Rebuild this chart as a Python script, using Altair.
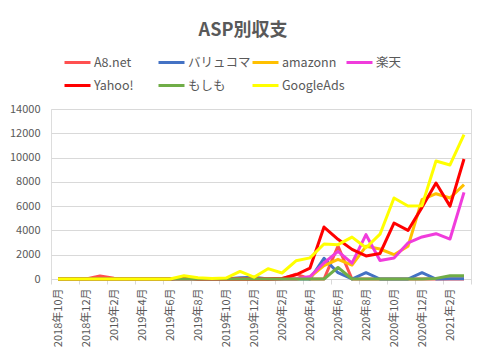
import altair as alt
import pandas as pd

months = ["2018年10月", "2018年11月", "2018年12月", "2019年1月", "2019年2月", "2019年3月",
          "2019年4月", "2019年5月", "2019年6月", "2019年7月", "2019年8月", "2019年9月",
          "2019年10月", "2019年11月", "2019年12月", "2020年1月", "2020年2月", "2020年3月",
          "2020年4月", "2020年5月", "2020年6月", "2020年7月", "2020年8月", "2020年9月",
          "2020年10月", "2020年11月", "2020年12月", "2021年1月", "2021年2月", "2021年3月"]

series_names = ["A8.net", "バリュコマ", "amazonn", "楽天", "Yahoo!", "もしも", "GoogleAds"]
colors = ["#FF5050", "#4472C4", "#FFC000", "#F03CDC", "#FF0000", "#70AD47", "#FFFF00"]

a8 = [0, 0, 0, 250, 60, 0, 0, 0, 0, 0, 0, 0, 0, 0, 0, 0, 0, 400, 0, 0,
      2700, 0, 0, 0, 0, 0, 0, 0, 0, 0]
valuecommerce = [0, 0, 0, 0, 0, 0, 0, 0, 0, 0, 0, 0, 0, 100, 150, 0, 0, 0, 0, 1700,
                 520, 0, 520, 0, 0, 0, 520, 0, 30, 30]
amazonn = [0, 0, 0, 0, 0, 0, 0, 0, 0, 0, 0, 0, 0, 0, 0, 0, 0, 0, 150, 1100,
           1620, 1150, 2690, 2470, 2000, 2690, 6530, 7025, 6670, 7765]
rakuten = [0, 0, 0, 0, 0, 0, 0, 0, 0, 0, 0, 0, 0, 0, 0, 0, 0, 0, 200, 1320,
           2270, 1300, 3650, 1530, 1730, 2965, 3460, 3730, 3290, 7130]
yahoo = [0, 0, 0, 0, 0, 0, 0, 0, 0, 100, 0, 0, 0, 0, 0, 0, 50, 350, 900, 4280,
         3270, 2440, 1900, 2100, 4610, 4000, 5900, 7900, 6000, 9880]
moshimo = [0, 0, 0, 0, 0, 0, 0, 0, 0, 0, 0, 0, 0, 0, 0, 0, 0, 0, 0, 0,
           950, 0, 0, 0, 0, 0, 0, 50, 270, 270]
googleads = [0, 0, 0, 0, 0, 0, 0, 0, 0, 270, 100, 50, 80, 620, 150, 850, 494, 1500, 1740, 2880,
             2830, 3450, 2570, 3690, 6670, 6010, 6040, 9720, 9390, 11880]

y_ticks = [0, 2000, 4000, 6000, 8000, 10000, 12000, 14000]

all_series = [a8, valuecommerce, amazonn, rakuten, yahoo, moshimo, googleads]
rows = []
for order, (name, vals) in enumerate(zip(series_names, all_series)):
    for i, (m, v) in enumerate(zip(months, vals)):
        rows.append({"series": name, "order": order, "idx": i, "month": m, "value": v})
df = pd.DataFrame(rows)

FONT = "Noto Sans CJK JP"
GRAY = "#595959"
GRID = "#D9D9D9"

label_js = "[" + ",".join("'" + m + "'" for m in months) + "]"
tick_vals = [-0.5 + 2 * k for k in range(len(months) // 2 + 1)]

x_enc = alt.X(
    "idx:Q",
    scale=alt.Scale(domain=[-0.5, len(months) - 0.5], nice=False, zero=False),
    axis=alt.Axis(
        values=tick_vals,
        labelExpr=label_js + "[datum.value + 0.5] || ''",
        labelAngle=-90,
        labelOffset=7,
        labelFlush=False,
        labelOverlap=False,
        labelPadding=4,
        labelFont=FONT,
        labelFontSize=11,
        labelColor=GRAY,
        tickSize=5,
        tickColor=GRID,
        domainColor=GRID,
        grid=False,
        title=None,
    ),
)

y_enc = alt.Y(
    "value:Q",
    scale=alt.Scale(domain=[0, 14000], nice=False),
    axis=alt.Axis(
        values=y_ticks,
        format="d",
        grid=True,
        gridColor=GRID,
        domain=False,
        ticks=False,
        labelPadding=11,
        labelFont=FONT,
        labelFontSize=11,
        labelColor=GRAY,
        title=None,
    ),
)

color_enc = alt.Color(
    "series:N",
    scale=alt.Scale(domain=series_names, range=colors),
    legend=alt.Legend(
        orient="none",
        direction="horizontal",
        legendX=12,
        legendY=-61,
        columns=4,
        symbolType="stroke",
        symbolSize=676,
        symbolStrokeWidth=3,
        labelFont=FONT,
        labelFontSize=12.5,
        labelColor=GRAY,
        labelOffset=2,
        gridAlign="all",
        columnPadding=-12,
        rowPadding=2,
        padding=0,
        title=None,
    ),
)

base = alt.Chart(df).mark_line(strokeWidth=3, strokeJoin="round").encode(
    x=x_enc,
    y=y_enc,
    color=color_enc,
    order=alt.Order("idx:Q"),
)

layers = [base.transform_filter(alt.datum.series == name) for name in series_names]

chart = alt.layer(*layers).properties(
    width=420,
    height=170,
    title=alt.TitleParams(
        "ASP別収支",
        font=FONT,
        fontSize=18,
        fontWeight="bold",
        color=GRAY,
        anchor="middle",
        dx=-18,
        offset=8,
    ),
    autosize=alt.AutoSizeParams(type="none"),
    padding={"left": 43, "top": 101, "right": 7, "bottom": 70},
).configure_view(stroke=None).configure(background="white")

chart.save("out.html", embed_options={"renderer": "svg", "actions": False})
